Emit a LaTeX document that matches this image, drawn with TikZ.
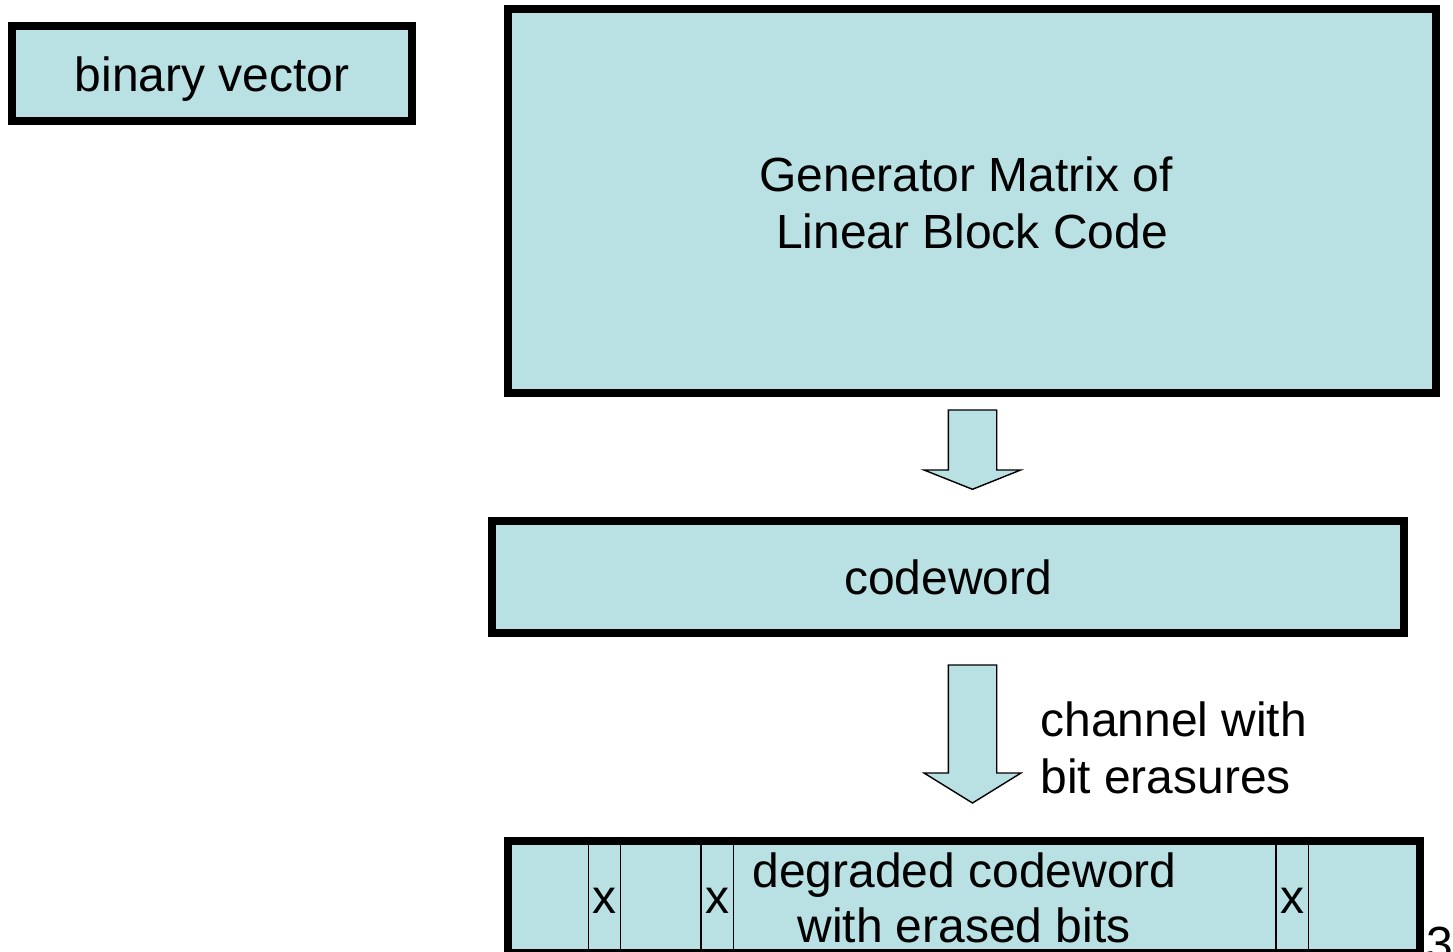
\documentclass[tikz,border=0pt]{standalone}
\usepackage{fontspec}
\setmainfont{Liberation Sans}
\definecolor{boxfill}{RGB}{185,224,227}
\begin{document}
\begin{tikzpicture}[x=0.02cm,y=-0.02cm,
  box/.style={draw=black, line width=0.16cm, fill=boxfill, inner sep=0pt, outer sep=0pt},
  txt/.style={font=\fontsize{27.3pt}{32.4pt}\selectfont, inner sep=0pt, anchor=base},
  blockarrow/.style={draw=black, line width=0.8pt, fill=boxfill, line join=miter},
  cell/.style={draw=black, line width=0.7pt}]
\useasboundingbox (0,0) rectangle (1453,952);

% page number, partly hidden behind the last box
\node[txt, anchor=base west] (pg) at (1399,960) {33};

% input vector
\node[box, minimum width=8cm, minimum height=1.9cm] (bv) at (212,73.5) {};
\node[txt] (bvt) at (212,91.5) {binary vector};

% generator matrix
\node[box, minimum width=18.564cm, minimum height=7.676cm] (gm) at (972.4,201.1) {};
\node[txt] (gm1) at (966,191.5) {Generator Matrix of};
\node[txt] (gm2) at (972,248.5) {Linear Block Code};

% encoding arrow
\coordinate (a1) at (972.5,410);
\draw[blockarrow, shift={(a1)}] (-24.2,0) -- (24.2,0) -- (24.2,60) -- (48.2,60)
  -- (0,79.3) -- (-48.5,60) -- (-24.2,60) -- cycle;

% codeword
\node[box, minimum width=18.25cm, minimum height=2.234cm] (cw) at (948.25,577.2) {};
\node[txt] (cwt) at (948,594.5) {codeword};

% channel arrow
\coordinate (a2) at (972.5,665);
\draw[blockarrow, shift={(a2)}] (-24.2,0) -- (24.2,0) -- (24.2,108) -- (48.5,108)
  -- (0,138) -- (-48.5,108) -- (-24.2,108) -- cycle;
\node[txt, anchor=base west] (ch1) at (1040,736) {channel with};
\node[txt, anchor=base west] (ch2) at (1040,793) {bit erasures};

% degraded codeword with erased cells
\node[box, minimum width=18.24cm, minimum height=2.24cm] (dc) at (964.3,897.3) {};
\foreach \cx in {588.3,620.5,701,733.5,1276,1308.3}
  \draw[cell] (\cx,845.3) -- (\cx,953);
\node[txt] (e1) at (604.4,913) {x};
\node[txt] (e2) at (717.2,913) {x};
\node[txt] (e3) at (1292.2,913) {x};
\node[txt] (dc1) at (964.5,887) {degraded codeword};
\node[txt] (dc2) at (964,942) {with erased bits};
\end{tikzpicture}
\end{document}
